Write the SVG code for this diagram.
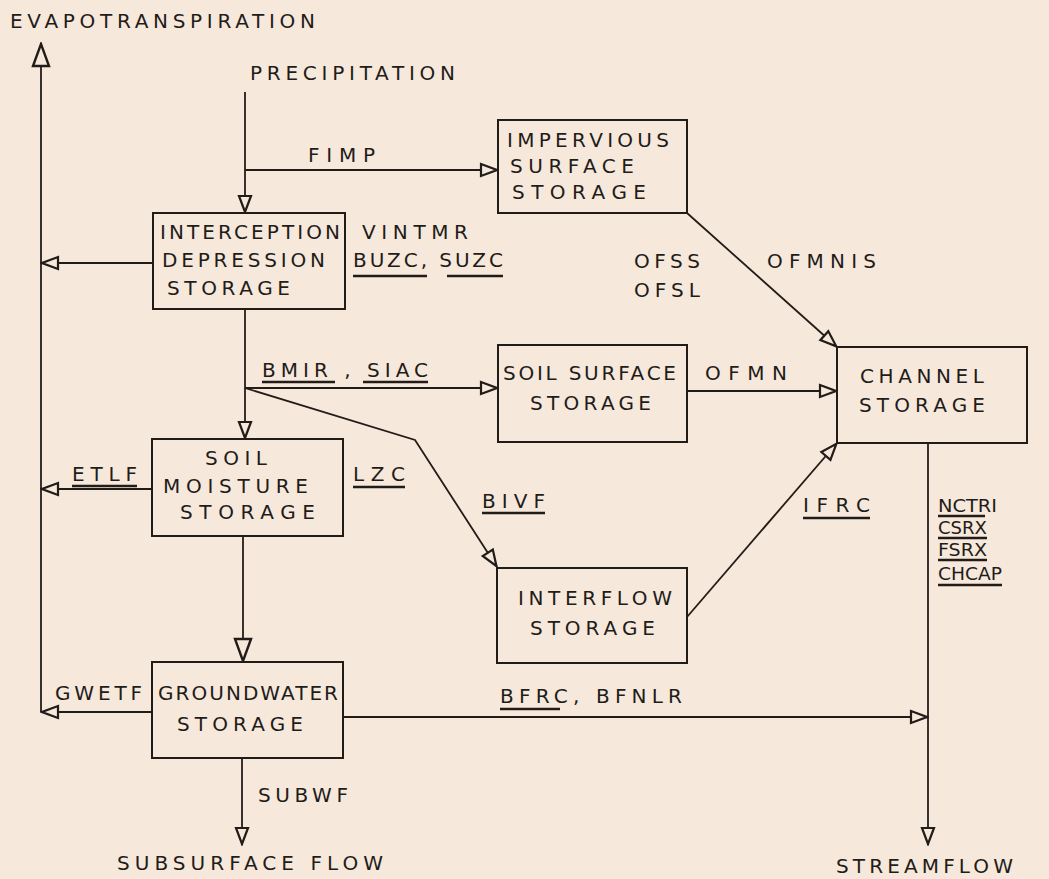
<svg xmlns="http://www.w3.org/2000/svg" width="1049" height="879" viewBox="0 0 1049 879">
<style>
text{font-family:"DejaVu Sans","Liberation Sans",Arial,sans-serif;font-size:20px;fill:#221c19;}
.sm{font-size:18px;}
.box{fill:none;stroke:#221c19;stroke-width:2;}
.ln{fill:none;stroke:#221c19;stroke-width:1.8;}
.ul{stroke:#221c19;stroke-width:2.6;}
</style>
<defs>
<marker id="ah" markerUnits="userSpaceOnUse" viewBox="0 0 20 16" markerWidth="20" markerHeight="16" refX="19" refY="8" orient="auto">
<path d="M2,2 L18,8 L2,14 Z" fill="#f7e8dc" stroke="#221c19" stroke-width="2.2"/>
</marker>
<marker id="ahL" markerUnits="userSpaceOnUse" viewBox="0 0 26 20" markerWidth="26" markerHeight="20" refX="25" refY="10" orient="auto">
<path d="M2,2 L24,10 L2,18 Z" fill="#f7e8dc" stroke="#221c19" stroke-width="2.4"/>
</marker>
</defs>
<rect width="1049" height="879" fill="#f7e8dc"/>

<g id="connectors">
<path class="ln" d="M41,712 L41,43" marker-end="url(#ahL)"/>
<path class="ln" d="M245,92 L245,213" marker-end="url(#ah)"/>
<path class="ln" d="M245,170 L498,170" marker-end="url(#ah)"/>
<path class="ln" d="M153,263 L41,263" marker-end="url(#ah)"/>
<path class="ln" d="M245,309 L245,439" marker-end="url(#ah)"/>
<path class="ln" d="M245,388 L498,388" marker-end="url(#ah)"/>
<path class="ln" d="M245,388 L415,440 L497,567" marker-end="url(#ah)"/>
<path class="ln" d="M152,489 L41,489" marker-end="url(#ah)"/>
<path class="ln" d="M243,536 L243,662" marker-end="url(#ahL)"/>
<path class="ln" d="M152,712 L41,712" marker-end="url(#ah)"/>
<path class="ln" d="M242,758 L242,845" marker-end="url(#ah)"/>
<path class="ln" d="M343,717 L928,717" marker-end="url(#ah)"/>
<path class="ln" d="M928,443 L928,845" marker-end="url(#ah)"/>
<path class="ln" d="M687,213 L837,347" marker-end="url(#ah)"/>
<path class="ln" d="M687,391 L837,391" marker-end="url(#ah)"/>
<path class="ln" d="M687,617 L837,443" marker-end="url(#ah)"/>
</g>

<g id="labels">
<text x="308" y="162" textLength="67" lengthAdjust="spacing">FIMP</text>
<text x="362" y="239" textLength="106" lengthAdjust="spacing">VINTMR</text>
<text x="353" y="267" textLength="150" lengthAdjust="spacing">BUZC, SUZC</text>
<line class="ul" x1="353" y1="276" x2="427" y2="276"/>
<line class="ul" x1="447" y1="276" x2="503" y2="276"/>
<text x="634" y="268" textLength="66" lengthAdjust="spacing">OFSS</text>
<text x="634" y="297" textLength="66" lengthAdjust="spacing">OFSL</text>
<text x="767" y="268" textLength="109" lengthAdjust="spacing">OFMNIS</text>
<text x="262" y="377" textLength="166" lengthAdjust="spacing">BMIR , SIAC</text>
<line class="ul" x1="262" y1="382" x2="335" y2="382"/>
<line class="ul" x1="363" y1="382" x2="428" y2="382"/>
<text x="705" y="380" textLength="82" lengthAdjust="spacing">OFMN</text>
<text x="72" y="481" textLength="65" lengthAdjust="spacing">ETLF</text>
<line class="ul" x1="72" y1="486" x2="137" y2="486"/>
<text x="353" y="481" textLength="52" lengthAdjust="spacing">LZC</text>
<line class="ul" x1="353" y1="487" x2="405" y2="487"/>
<text x="482" y="508" textLength="63" lengthAdjust="spacing">BIVF</text>
<line class="ul" x1="482" y1="513" x2="545" y2="513"/>
<text x="803" y="512" textLength="67" lengthAdjust="spacing">IFRC</text>
<line class="ul" x1="803" y1="518" x2="870" y2="518"/>
<text class="sm" x="938" y="512" textLength="59" lengthAdjust="spacingAndGlyphs">NCTRI</text>
<line class="ul" x1="938" y1="516" x2="985" y2="516"/>
<text class="sm" x="938" y="534" textLength="49" lengthAdjust="spacingAndGlyphs">CSRX</text>
<line class="ul" x1="938" y1="538" x2="987" y2="538"/>
<text class="sm" x="938" y="556" textLength="49" lengthAdjust="spacingAndGlyphs">FSRX</text>
<line class="ul" x1="938" y1="560" x2="987" y2="560"/>
<text class="sm" x="938" y="580" textLength="64" lengthAdjust="spacingAndGlyphs">CHCAP</text>
<line class="ul" x1="938" y1="585" x2="1002" y2="585"/>
<text x="55" y="700" textLength="87" lengthAdjust="spacing">GWETF</text>
<text x="500" y="703" textLength="182" lengthAdjust="spacing">BFRC, BFNLR</text>
<line class="ul" x1="500" y1="709" x2="560" y2="709"/>
<text x="258" y="802" textLength="90" lengthAdjust="spacing">SUBWF</text>
</g>

<g id="evapotranspiration">
<text x="10" y="28" textLength="305" lengthAdjust="spacing">EVAPOTRANSPIRATION</text>
</g>
<g id="precipitation">
<text x="250" y="80" textLength="205" lengthAdjust="spacing">PRECIPITATION</text>
</g>
<g id="impervious">
<rect class="box" x="498" y="120" width="189" height="93"/>
<text x="507" y="147" textLength="162" lengthAdjust="spacing">IMPERVIOUS</text>
<text x="510" y="173" textLength="124" lengthAdjust="spacing">SURFACE</text>
<text x="512" y="199" textLength="134" lengthAdjust="spacing">STORAGE</text>
</g>
<g id="interception">
<rect class="box" x="153" y="213" width="192" height="96"/>
<text x="160" y="239" textLength="180" lengthAdjust="spacing">INTERCEPTION</text>
<text x="162" y="267" textLength="163" lengthAdjust="spacing">DEPRESSION</text>
<text x="167" y="295" textLength="123" lengthAdjust="spacing">STORAGE</text>
</g>
<g id="soil-surface">
<rect class="box" x="498" y="345" width="189" height="97"/>
<text x="503" y="380" textLength="173" lengthAdjust="spacing">SOIL SURFACE</text>
<text x="530" y="410" textLength="121" lengthAdjust="spacing">STORAGE</text>
</g>
<g id="channel">
<rect class="box" x="837" y="347" width="190" height="96"/>
<text x="860" y="383" textLength="124" lengthAdjust="spacing">CHANNEL</text>
<text x="859" y="412" textLength="126" lengthAdjust="spacing">STORAGE</text>
</g>
<g id="soil-moisture">
<rect class="box" x="152" y="439" width="191" height="97"/>
<text x="205" y="465" textLength="62" lengthAdjust="spacing">SOIL</text>
<text x="163" y="493" textLength="145" lengthAdjust="spacing">MOISTURE</text>
<text x="180" y="519" textLength="135" lengthAdjust="spacing">STORAGE</text>
</g>
<g id="interflow">
<rect class="box" x="497" y="568" width="190" height="95"/>
<text x="518" y="605" textLength="154" lengthAdjust="spacing">INTERFLOW</text>
<text x="530" y="635" textLength="125" lengthAdjust="spacing">STORAGE</text>
</g>
<g id="groundwater">
<rect class="box" x="152" y="662" width="191" height="96"/>
<text x="158" y="700" textLength="180" lengthAdjust="spacing">GROUNDWATER</text>
<text x="177" y="731" textLength="126" lengthAdjust="spacing">STORAGE</text>
</g>
<g id="subsurface-flow">
<text x="117" y="870" textLength="266" lengthAdjust="spacing">SUBSURFACE FLOW</text>
</g>
<g id="streamflow">
<text x="836" y="873" textLength="177" lengthAdjust="spacing">STREAMFLOW</text>
</g>
</svg>
